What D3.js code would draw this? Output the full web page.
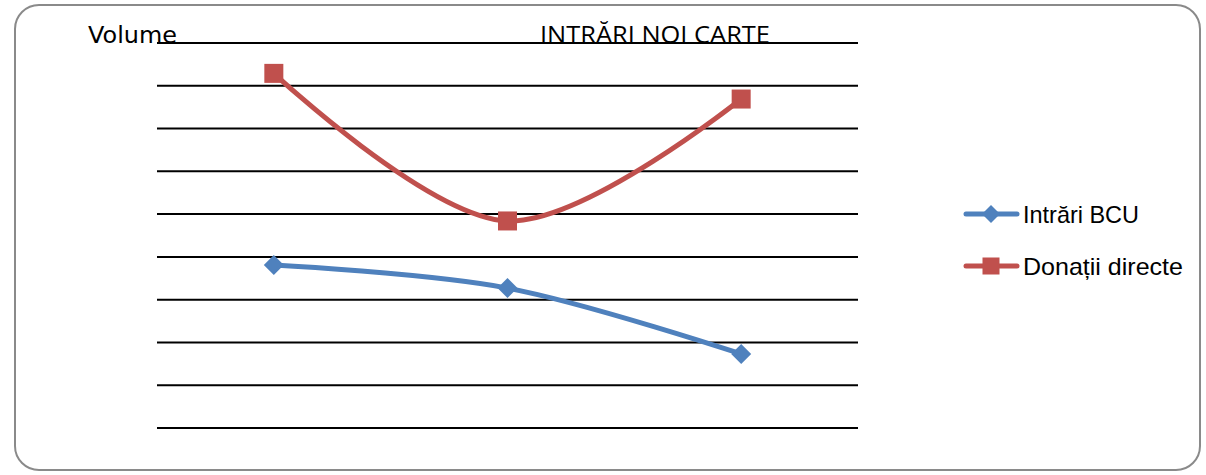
<!DOCTYPE html>
<html><head><meta charset="utf-8">
<script src="https://cdn.jsdelivr.net/npm/d3@7"></script>
<style>body{margin:0;background:#fff}svg{display:block}</style>
</head><body>
<svg id="c" width="1206" height="475"></svg>
<script>
const categories = ["A", "B", "C"];
const seriesNames = ["Intrări BCU", "Donații directe"];
const intrariBCU = [3.81, 3.27, 1.73];
const donatiiDirecte = [8.29, 4.84, 7.69];
const yTicks = [0,1,2,3,4,5,6,7,8,9];

const svg = d3.select("#c");
svg.append("rect").attr("x",15).attr("y",5).attr("width",1185).attr("height",465)
  .attr("rx",24).attr("fill","#fff").attr("stroke","#8a8a8a").attr("stroke-width",2);

const x = d3.scaleBand().domain(categories).range([157,858]);
const y = d3.scaleLinear().domain([0,9]).range([428,43]);
const cx = d => x(d) + x.bandwidth()/2;

svg.append("g").selectAll("line").data(yTicks).join("line")
  .attr("x1",157).attr("x2",858).attr("y1",d=>y(d)).attr("y2",d=>y(d))
  .attr("stroke","#000").attr("stroke-width",2);

svg.append("text").attr("x",88).attr("y",43).attr("font-family","DejaVu Sans")
  .attr("font-size",23).attr("fill","#000").attr("textLength",89).attr("lengthAdjust","spacingAndGlyphs").text("Volume");
svg.append("text").attr("x",540).attr("y",43).attr("font-family","'Open Sans'")
  .attr("font-size",23).attr("fill","#000").attr("textLength",230).attr("lengthAdjust","spacingAndGlyphs").text("INTRĂRI NOI CARTE");

const colors = ["#4F81BD","#C0504D"];
const data = [intrariBCU, donatiiDirecte];
const line = d3.line().x((d,i)=>cx(categories[i])).y(d=>y(d)).curve(d3.curveCatmullRom.alpha(0.5));

data.forEach((vals,k)=>{
  svg.append("path").attr("d",line(vals)).attr("fill","none")
    .attr("stroke",colors[k]).attr("stroke-width",5).attr("stroke-linecap","round");
});
const diamond = (g,cxv,cyv,r)=> g.append("path")
  .attr("d",`M${cxv},${cyv-r}L${cxv+r},${cyv}L${cxv},${cyv+r}L${cxv-r},${cyv}Z`).attr("fill",colors[0]);
const square = (g,cxv,cyv,s)=> g.append("rect").attr("x",cxv-s/2).attr("y",cyv-s/2)
  .attr("width",s).attr("height",s).attr("fill",colors[1]);

intrariBCU.forEach((v,i)=>diamond(svg,cx(categories[i]),y(v),10));
donatiiDirecte.forEach((v,i)=>square(svg,cx(categories[i]),y(v),19));

// legend
const legY = [214, 266];
const legLen = [116, 160];
seriesNames.forEach((n,k)=>{
  svg.append("line").attr("x1",966).attr("x2",1017).attr("y1",legY[k]).attr("y2",legY[k])
    .attr("stroke",colors[k]).attr("stroke-width",5).attr("stroke-linecap","round");
  if(k===0) diamond(svg,991,legY[k],9); else square(svg,991,legY[k],17);
  svg.append("text").attr("x",1023).attr("y",legY[k]+9).attr("font-family","Liberation Sans, Arial")
    .attr("font-size",24).attr("fill","#000").attr("textLength",legLen[k]).attr("lengthAdjust","spacingAndGlyphs").text(n);
});
</script>
</body></html>
